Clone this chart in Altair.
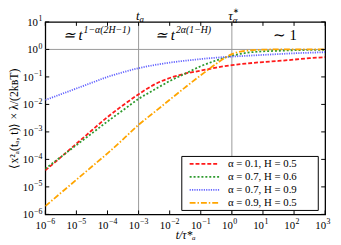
import altair as alt
import pandas as pd

# ---------------- data ----------------
series = ["α = 0.1, H = 0.5", "α = 0.7, H = 0.6", "α = 0.7, H = 0.9", "α = 0.9, H = 0.5"]

# log10(t / tau*) sample positions
t_exp = [-6, -5.5, -5, -4.5, -4, -3.5, -3, -2.5, -2, -1.5, -1, -0.5, 0, 0.5, 1, 1.5, 2, 2.5, 3]

# log10 of the scaled MSD for each series
red_logy = [-4.40, -3.92, -3.43, -2.94, -2.46, -2.03, -1.63, -1.28, -1.04, -0.88, -0.77,
            -0.66, -0.57, -0.51, -0.46, -0.42, -0.37, -0.32, -0.28]
green_logy = [-4.34, -3.91, -3.48, -3.05, -2.62, -2.21, -1.80, -1.47, -1.15, -0.88, -0.61,
              -0.40, -0.23, -0.12, -0.07, -0.05, -0.03, -0.02, -0.02]
blue_logy = [-1.84, -1.63, -1.42, -1.21, -1.00, -0.83, -0.68, -0.57, -0.48, -0.41, -0.35,
             -0.30, -0.26, -0.23, -0.20, -0.17, -0.14, -0.12, -0.10]
orange_logy = [-5.70, -5.22, -4.74, -4.26, -3.78, -3.27, -2.74, -2.29, -1.83, -1.38, -0.94,
               -0.52, -0.17, -0.04, -0.01, 0.0, 0.0, 0.0, 0.0]

# tick decades and their exponent labels (shown as 10^e)
x_tick_exp = [-6, -5, -4, -3, -2, -1, 0, 1, 2, 3]
x_tick_labels = ["−6", "−5", "−4", "−3", "−2", "−1", "0", "1", "2", "3"]
y_tick_exp = [-6, -5, -4, -3, -2, -1, 0, 1]
y_tick_labels = ["−6", "−5", "−4", "−3", "−2", "−1", "0", "1"]

ref_t = [1e-3, 1.0]          # t_a and tau*
ref_y = [1.0]

# ---------------- styling ----------------
colors = ["#ff1a1a", "#2e9a2e", "#6464ff", "#ffa500"]
dashes = [[4, 2], [2, 2], [1.2, 1.2], [6, 2, 1.5, 2]]
W, H = 285, 196
FONT = "Liberation Serif"

rows = []
for name, ys in zip(series, [red_logy, green_logy, blue_logy, orange_logy]):
    for te, ye in zip(t_exp, ys):
        rows.append({"t": 10 ** te, "y": 10 ** ye, "series": name})
df = pd.DataFrame(rows)

x_vals = [10.0 ** e for e in x_tick_exp]
y_vals = [10.0 ** e for e in y_tick_exp]
xs = alt.Scale(type="log", domain=[1e-6, 1e3], nice=False)
ys_ = alt.Scale(type="log", domain=[1e-6, 10], nice=False)

x_axis = alt.Axis(values=x_vals, labels=False, ticks=False, domain=False, grid=False,
                  title="t/τ*ₐ", titleFontStyle="italic", titlePadding=16, titleFontSize=12)
y_axis = alt.Axis(values=y_vals, labels=False, ticks=False, domain=False, grid=False,
                  title="⟨x²ₐ(tₐ, t)⟩ × λ/(2kʙT)", titlePadding=25)

lines = alt.Chart(df).mark_line(strokeWidth=1.8, interpolate="monotone", clip=True).encode(
    x=alt.X("t:Q", scale=xs, axis=x_axis),
    y=alt.Y("y:Q", scale=ys_, axis=y_axis),
    color=alt.Color("series:N", scale=alt.Scale(domain=series, range=colors), legend=None),
    strokeDash=alt.StrokeDash("series:N", scale=alt.Scale(domain=series, range=dashes), legend=None),
)

vref = alt.Chart(pd.DataFrame({"t": ref_t})).mark_rule(color="#999999", strokeWidth=1).encode(
    x=alt.X("t:Q", scale=xs))
href = alt.Chart(pd.DataFrame({"y": ref_y})).mark_rule(color="#999999", strokeWidth=1).encode(
    y=alt.Y("y:Q", scale=ys_))

xt = pd.DataFrame({"t": x_vals, "e": x_tick_labels})
yt = pd.DataFrame({"y": y_vals, "e": y_tick_labels, "k": y_tick_exp})
tick_style = dict(color="black", strokeWidth=1)
ticks = [
    alt.Chart(xt).mark_rule(**tick_style).encode(x=alt.X("t:Q", scale=xs), y=alt.value(H), y2=alt.value(H - 4)),
    alt.Chart(xt).mark_rule(**tick_style).encode(x=alt.X("t:Q", scale=xs), y=alt.value(0), y2=alt.value(4)),
    alt.Chart(yt).mark_rule(**tick_style).encode(y=alt.Y("y:Q", scale=ys_), x=alt.value(0), x2=alt.value(4)),
    alt.Chart(yt).mark_rule(**tick_style).encode(y=alt.Y("y:Q", scale=ys_), x=alt.value(W), x2=alt.value(W - 4)),
]

# tick labels as 10 with a raised exponent
LBL, EXP = 11, 8
tick_labels = [
    alt.Chart(xt).mark_text(font=FONT, fontSize=LBL, align="right", baseline="alphabetic", dx=1).encode(
        x=alt.X("t:Q", scale=xs), y=alt.value(H + 15), text=alt.value("10")),
    alt.Chart(xt).mark_text(font=FONT, fontSize=EXP, align="left", baseline="alphabetic", dx=1.5).encode(
        x=alt.X("t:Q", scale=xs), y=alt.value(H + 10), text="e:N"),
    alt.Chart(yt).mark_text(font=FONT, fontSize=EXP, align="right", baseline="alphabetic", dy=-0.5).encode(
        y=alt.Y("y:Q", scale=ys_), x=alt.value(-3), text="e:N"),
    alt.Chart(yt).transform_filter("datum.k < 0").mark_text(
        font=FONT, fontSize=LBL, align="right", baseline="alphabetic", dy=4).encode(
        y=alt.Y("y:Q", scale=ys_), x=alt.value(-12), text=alt.value("10")),
    alt.Chart(yt).transform_filter("datum.k >= 0").mark_text(
        font=FONT, fontSize=LBL, align="right", baseline="alphabetic", dy=4).encode(
        y=alt.Y("y:Q", scale=ys_), x=alt.value(-7.5), text=alt.value("10")),
]


def txt(x, y, text, size, align="center", dx=0, dy=0, style="normal"):
    d = pd.DataFrame({"t": [x], "y": [y], "s": [text]})
    m = alt.Chart(d).mark_text(font=FONT, fontSize=size, align=align, baseline="alphabetic",
                               dx=dx, dy=dy, fontStyle=style, color="black")
    enc = {"x": alt.X("t:Q", scale=xs), "text": "s:N"}
    if y is None:
        enc["y"] = alt.value(-2)
    else:
        enc["y"] = alt.Y("y:Q", scale=ys_)
    return m.encode(**enc)


ann_y = 10 ** 0.35
texts = [
    txt(10 ** -4.8, ann_y, "≃ t", 15, align="right", style="italic"),
    txt(10 ** -4.8, ann_y, "1−α(2H−1)", 10, align="left", dx=1, dy=-7, style="italic"),
    txt(10 ** -1.83, ann_y, "≃ t", 15, align="right", style="italic"),
    txt(10 ** -1.83, ann_y, "2α(1−H)", 10, align="left", dx=1, dy=-7, style="italic"),
    txt(10 ** 1.7, ann_y, "∼ 1", 15),
    txt(1e-3, None, "t", 13, align="right", dx=1, style="italic"),
    txt(1e-3, None, "a", 9, align="left", dx=1, dy=2, style="italic"),
    txt(1.0, None, "τ", 13, align="right", dx=1, style="italic"),
    txt(1.0, None, "∗", 7, align="left", dx=1, dy=-7),
    txt(1.0, None, "α", 9, align="left", dx=1, dy=3, style="italic"),
]

# hand-drawn legend box (plot-relative pixels)
LX0, LX1, LY0, LY1 = 139, 278, 137, 192
row_y = [144.5, 157.8, 171.1, 184.4]
legend_layers = [
    alt.Chart(pd.DataFrame({"a": [0]})).mark_rect(fill="white", stroke="black", strokeWidth=1).encode(
        x=alt.value(LX0), x2=alt.value(LX1), y=alt.value(LY0), y2=alt.value(LY1))
]
for name, col, dash, ry in zip(series, colors, dashes, row_y):
    legend_layers.append(
        alt.Chart(pd.DataFrame({"a": [0]})).mark_rule(color=col, strokeDash=dash, strokeWidth=1.8).encode(
            x=alt.value(147), x2=alt.value(177), y=alt.value(ry)))
    legend_layers.append(
        alt.Chart(pd.DataFrame({"s": [name]})).mark_text(
            font=FONT, fontSize=11, align="left", baseline="middle", color="black").encode(
            x=alt.value(186), y=alt.value(ry), text="s:N"))

chart = alt.layer(vref, href, lines, *ticks, *tick_labels, *texts, *legend_layers).properties(
    width=W, height=H,
    autosize=alt.AutoSizeParams(type="none"),
    padding={"left": 38, "top": 12, "right": 8, "bottom": 29},
).configure_view(stroke="black", strokeWidth=1.3).configure_axis(
    labelFont=FONT, labelFontSize=11, labelColor="black",
    titleFont=FONT, titleFontSize=12, titleFontWeight="normal", titleColor="black",
)

chart.save("out.html", embed_options={"renderer": "svg", "actions": False})
